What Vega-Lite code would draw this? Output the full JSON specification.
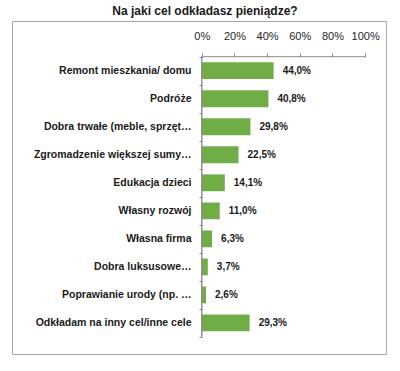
{
  "$schema": "https://vega.github.io/schema/vega-lite/v6.json",
  "width": 374,
  "height": 333,
  "autosize": "none",
  "padding": {"left": 12, "top": 21, "right": 14, "bottom": 17},
  "title": {"text": "Na jaki cel odkładasz pieniądze?", "font": "Liberation Sans", "fontSize": 12, "fontWeight": "bold", "color": "#1a1a1a", "anchor": "middle", "offset": -2, "dx": 6},
  "config": {
    "view": {"stroke": "#a6a6a6", "strokeWidth": 1},
    "locale": {"number": {"decimal": ",", "thousands": " ", "grouping": [3], "currency": ["", " zł"]}},
    "font": "Liberation Sans"
  },
  "data": {"values": [
    {"label": "Remont mieszkania/ domu", "value": 0.440},
    {"label": "Podróże", "value": 0.408},
    {"label": "Dobra trwałe (meble, sprzęt…", "value": 0.298},
    {"label": "Zgromadzenie większej sumy…", "value": 0.225},
    {"label": "Edukacja dzieci", "value": 0.141},
    {"label": "Własny rozwój", "value": 0.110},
    {"label": "Własna firma", "value": 0.063},
    {"label": "Dobra luksusowe…", "value": 0.037},
    {"label": "Poprawianie urody (np. …", "value": 0.026},
    {"label": "Odkładam na inny cel/inne cele", "value": 0.293}
  ]},
  "encoding": {
    "y": {
      "field": "label", "type": "nominal", "sort": null,
      "scale": {"paddingInner": 0, "paddingOuter": 0.94, "align": 0.677},
      "axis": {"orient": "left", "offset": -190, "domain": false, "ticks": true, "tickBand": "extent", "tickSize": 3, "tickColor": "#8c8c8c", "labelPadding": 8, "labelFont": "Liberation Sans", "labelFontWeight": "bold", "labelFontSize": 10.5, "labelColor": "#1a1a1a", "labelLimit": 250, "title": null, "grid": false}
    }
  },
  "layer": [
    {
      "mark": {"type": "bar", "color": "#70ad47", "height": {"band": 0.6}},
      "encoding": {
        "x": {
          "field": "value", "type": "quantitative",
          "scale": {"domain": [-1.162, 1.128], "nice": false, "zero": false},
          "axis": {"orient": "top", "offset": -36, "values": [0, 0.2, 0.4, 0.6, 0.8, 1], "format": ".0%", "domain": false, "grid": false, "tickSize": 4, "tickColor": "#8c8c8c", "labelPadding": 12, "labelFont": "Liberation Sans", "labelFontSize": 11, "labelColor": "#262626", "title": null}
        }
      }
    },
    {
      "mark": {"type": "rect", "fill": null, "stroke": "#8c8c8c", "strokeWidth": 1},
      "encoding": {"x": {"datum": 0}, "x2": {"datum": 0}}
    },
    {
      "data": {"values": [{"first": "Remont mieszkania/ domu"}]},
      "mark": {"type": "rule", "color": "#8c8c8c", "strokeWidth": 1},
      "encoding": {"x": {"datum": 0}, "x2": {"datum": 1}, "y": {"field": "first", "type": "nominal", "bandPosition": 0}}
    },
    {
      "mark": {"type": "text", "align": "left", "baseline": "middle", "dx": 9, "font": "Liberation Sans", "fontSize": 10, "fontWeight": "bold", "color": "#1a1a1a"},
      "encoding": {
        "x": {"field": "value", "type": "quantitative"},
        "text": {"field": "value", "type": "quantitative", "format": ".1%"}
      }
    }
  ]
}
